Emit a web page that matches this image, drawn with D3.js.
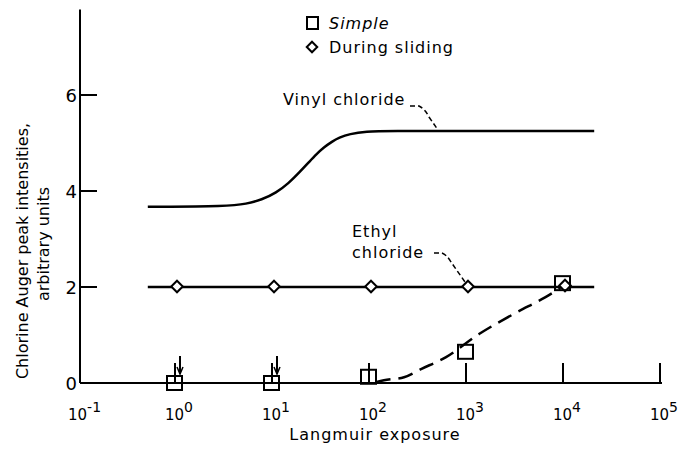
<!DOCTYPE html>
<html><head><meta charset="utf-8">
<script src="https://cdn.jsdelivr.net/npm/d3@7"></script>
<style>
body{margin:0;background:#fff;}
text{font-family:"DejaVu Sans",sans-serif;fill:#000;}
.lbl{font-size:16px;letter-spacing:1px;}
</style></head>
<body><svg id="c" width="678" height="449"></svg>
<script>
// ---- data ----
const xTickValues = [0.1, 1, 10, 100, 1000, 10000, 100000];
const xTickExponents = ["-1", "0", "1", "2", "3", "4", "5"];
const yTickValues = [0, 2, 4, 6];
const yTickLabels = ["0", "2", "4", "6"];

const vinylX = [0.5, 3.4, 5.15, 7.5, 10.5, 14.3, 18.1, 22.9, 27.1, 32.7, 39.7, 46.8, 60, 89, 150, 1000, 20000];
const vinylY = [3.67, 3.68, 3.73, 3.82, 3.96, 4.17, 4.38, 4.6, 4.76, 4.91, 5.03, 5.11, 5.19, 5.24, 5.25, 5.25, 5.25];

const ethylX = [0.5, 20000];
const ethylY = [2.0, 2.0];

const slidingX = [1, 10, 100, 1000, 10000];
const slidingY = [2.01, 2.01, 2.01, 2.01, 2.03];

const simpleX = [1, 10, 100, 1000, 10000];
const simpleY = [0.0, 0.0, 0.13, 0.65, 2.08];

const simpleFitX = [112, 136, 219, 328, 594, 1300, 3100, 6300, 9000];
const simpleFitY = [0.015, 0.056, 0.12, 0.29, 0.54, 1.02, 1.46, 1.79, 1.98];

const arrowX = [1, 10];

// ---- scales ----
const svg = d3.select("#c");
const x = d3.scaleLog().domain([0.1, 100000]).range([80, 662]);
const y = d3.scaleLinear().domain([0, 8]).range([383, -1]);

const g = svg.append("g");

// axes lines
g.append("line").attr("x1", x(0.1)).attr("x2", x(100000)).attr("y1", y(0)).attr("y2", y(0))
  .attr("stroke", "#000").attr("stroke-width", 2);
g.append("line").attr("x1", x(0.1)).attr("x2", x(0.1)).attr("y1", y(0)).attr("y2", y(7.78))
  .attr("stroke", "#000").attr("stroke-width", 2);

// x ticks (upward)
g.selectAll(".xt").data(xTickValues.slice(1)).enter().append("line")
  .attr("x1", d => x(d) - 2).attr("x2", d => x(d) - 2)
  .attr("y1", y(0)).attr("y2", y(0) - 20)
  .attr("stroke", "#000").attr("stroke-width", 2);

// x tick labels
const xl = g.selectAll(".xl").data(xTickValues).enter().append("text")
  .attr("x", d => x(d) - 12).attr("y", 420)
  .attr("text-anchor", "start").style("font-size", "15px");
xl.append("tspan").text("10");
xl.append("tspan").attr("dy", -8).style("font-size", "14px").text((d, i) => xTickExponents[i]);

// y ticks
g.selectAll(".yt").data(yTickValues.slice(1)).enter().append("line")
  .attr("x1", x(0.1)).attr("x2", x(0.1) + 17)
  .attr("y1", d => y(d)).attr("y2", d => y(d))
  .attr("stroke", "#000").attr("stroke-width", 2);
g.selectAll(".yl").data(yTickValues).enter().append("text")
  .attr("x", x(0.1) - 3).attr("y", d => y(d) + 7)
  .attr("text-anchor", "end").style("font-size", "18px")
  .text((d, i) => yTickLabels[i]);

// axis titles
g.append("text").attr("class", "lbl").attr("x", 375).attr("y", 440).attr("text-anchor", "middle")
  .text("Langmuir exposure");
g.append("text").attr("transform", "translate(28,251) rotate(-90)").attr("text-anchor", "middle")
  .style("font-size", "16px").text("Chlorine Auger peak intensities,");
g.append("text").attr("transform", "translate(49,244) rotate(-90)").attr("text-anchor", "middle")
  .style("font-size", "16px").text("arbitrary units");

// curves
const smooth = d3.line().x(d => x(d[0])).y(d => y(d[1])).curve(d3.curveBasis);
const mono = d3.line().x(d => x(d[0])).y(d => y(d[1])).curve(d3.curveMonotoneX);
g.append("path").attr("d", smooth(vinylX.map((v, i) => [v, vinylY[i]])))
  .attr("fill", "none").attr("stroke", "#000").attr("stroke-width", 2.5);
g.append("path").attr("d", mono(ethylX.map((v, i) => [v, ethylY[i]])))
  .attr("fill", "none").attr("stroke", "#000").attr("stroke-width", 2.5);
g.append("path").attr("d", mono(simpleFitX.map((v, i) => [v, simpleFitY[i]])))
  .attr("fill", "none").attr("stroke", "#000").attr("stroke-width", 2.5)
  .attr("stroke-dasharray", "15,8");

// diamonds
const dsym = d3.symbol().type(d3.symbolDiamond2).size(85);
g.selectAll(".dm").data(slidingX).enter().append("path")
  .attr("d", dsym).attr("transform", (d, i) => `translate(${x(d)},${y(slidingY[i])})`)
  .attr("fill", "#fff").attr("stroke", "#000").attr("stroke-width", 2);

// squares
g.selectAll(".sq").data(simpleX).enter().append("rect")
  .attr("x", d => x(d) - 10).attr("y", (d, i) => y(simpleY[i]) - 7)
  .attr("width", 15).attr("height", 14)
  .attr("fill", "none").attr("stroke", "#000").attr("stroke-width", 2);

// arrows (below detection)
const arrows = g.selectAll(".ar").data(arrowX).enter().append("g")
  .attr("transform", d => `translate(${x(d) + 3},0)`);
arrows.append("line").attr("x1", 0).attr("x2", 0).attr("y1", y(0) - 27).attr("y2", y(0) - 9)
  .attr("stroke", "#000").attr("stroke-width", 2);
arrows.append("path").attr("d", `M-3,${y(0) - 16} L0,${y(0) - 9} L3,${y(0) - 16}`)
  .attr("fill", "none").attr("stroke", "#000").attr("stroke-width", 1.5);

// legend
g.append("rect").attr("x", 307).attr("y", 17).attr("width", 11).attr("height", 12)
  .attr("fill", "none").attr("stroke", "#000").attr("stroke-width", 2);
g.append("text").attr("class", "lbl").attr("x", 329).attr("y", 29).style("font-style", "italic").text("Simple");
g.append("path").attr("d", d3.symbol().type(d3.symbolDiamond2).size(70))
  .attr("transform", "translate(312,47)")
  .attr("fill", "#fff").attr("stroke", "#000").attr("stroke-width", 2);
g.append("text").attr("class", "lbl").attr("x", 329).attr("y", 53).text("During sliding");

// annotations
g.append("text").attr("class", "lbl").attr("x", 283).attr("y", 105).text("Vinyl chloride");
g.append("path").attr("d", "M410,106 L419,106 Q425,109 429,117 L438,130")
  .attr("fill", "none").attr("stroke", "#000").attr("stroke-width", 1.5).attr("stroke-dasharray", "5,3");
g.append("text").attr("class", "lbl").attr("x", 352).attr("y", 237).text("Ethyl");
g.append("text").attr("class", "lbl").attr("x", 352).attr("y", 258).text("chloride");
g.append("path").attr("d", "M434,253 L442,253 Q447,255 451,262 L465,282")
  .attr("fill", "none").attr("stroke", "#000").attr("stroke-width", 1.5).attr("stroke-dasharray", "5,3");
</script></body></html>
